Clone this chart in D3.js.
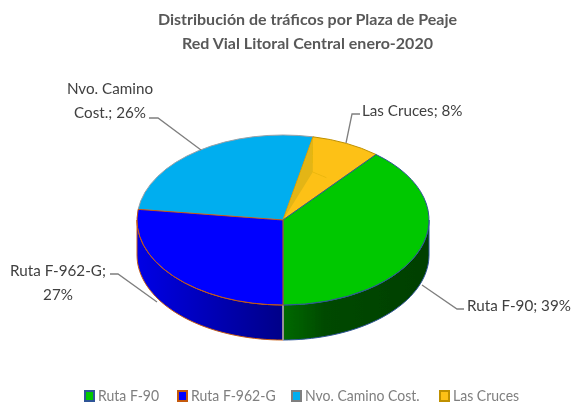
<!DOCTYPE html>
<html><head><meta charset="utf-8">
<script src="https://cdn.jsdelivr.net/npm/d3@7"></script>
<style>html,body{margin:0;padding:0;background:#fff}svg{display:block}
text{font-family:Lato,"Open Sans",sans-serif}</style></head>
<body><div id="chart"></div>
<script>
const categories = ["Ruta F-90","Ruta F-962-G","Nvo. Camino Cost.","Las Cruces"];
const values = [39,27,26.3,7.7];
const topColors = ["#00c800","#0000ff","#00aeef","#fdc116"];
const edgeColors = ["#2f5597","#c55a11","#7f7f7f","#bf9000"];
const titleLines = ["Distribución de tráficos por Plaza de Peaje","Red Vial Litoral Central enero-2020"];
const pieLabels = [["Ruta F-90; 39%"],["Ruta F-962-G;","27%"],["Nvo. Camino","Cost.; 26%"],["Las Cruces; 8%"]];

const W=573,H=405,cx=283,cy=220,rx=146,ry=85,depth=35;
const svg=d3.select("#chart").append("svg").attr("width",W).attr("height",H);
const defs=svg.append("defs");
defs.append("filter").attr("id","soft").attr("x","-5%").attr("y","-5%").attr("width","110%").attr("height","110%")
  .append("feGaussianBlur").attr("stdDeviation",0.5);
const root=svg.append("g").attr("filter","url(#soft)");
const squeeze=(sel,f)=>sel.each(function(){
  d3.select(this).attr("textLength",this.getComputedTextLength()*f).attr("lengthAdjust","spacingAndGlyphs");
});

const pie=d3.pie().value(d=>d).sort(null).startAngle(39.6*Math.PI/180).endAngle((39.6+360)*Math.PI/180);
const arcs=pie(values);
const px=a=>cx+rx*Math.sin(a), py=a=>cy-ry*Math.cos(a);

// side walls
categories.forEach((c,i)=>{
  const g=defs.append("linearGradient").attr("id","side"+i).attr("gradientUnits","userSpaceOnUse")
    .attr("x1",i==0?cx:cx-rx).attr("x2",i==0?cx+rx:cx).attr("y1",0).attr("y2",0);
  if(i==0){
    g.append("stop").attr("offset",0).attr("stop-color","#006a00");
    g.append("stop").attr("offset",.3).attr("stop-color","#004800");
    g.append("stop").attr("offset",1).attr("stop-color","#004000");
  } else {
    g.append("stop").attr("offset",0).attr("stop-color","#0000e6");
    g.append("stop").attr("offset",1).attr("stop-color","#000088");
  }
});
arcs.forEach((d,i)=>{
  const a0=Math.max(d.startAngle,Math.PI/2), a1=Math.min(d.endAngle,Math.PI*3/2);
  if(a1<=a0) return;
  const ts=d3.range(0,41).map(k=>a0+(a1-a0)*k/40);
  const pts=ts.map(t=>[px(t),py(t)]).concat(ts.slice().reverse().map(t=>[px(t),py(t)+depth]));
  root.append("path").attr("d",d3.line()(pts)+"Z").attr("fill",`url(#side${i})`)
    .attr("stroke",edgeColors[i]).attr("stroke-width",1);
});
// vertical seam at the front
root.append("line").attr("x1",px(Math.PI)).attr("x2",px(Math.PI)).attr("y1",py(Math.PI)).attr("y2",py(Math.PI)+depth)
  .attr("stroke","#a9a9b4").attr("stroke-width",1.5);

// top faces
const arc=d3.arc().innerRadius(0).outerRadius(rx);
const topG=root.append("g").attr("transform",`translate(${cx},${cy}) scale(1,${ry/rx})`);
const order=[2,3,0,1];
order.forEach(i=>{
  topG.append("path").attr("d",arc(arcs[i])).attr("fill",topColors[i])
    .attr("stroke",i==2?"#9aa0a6":edgeColors[i]).attr("stroke-width",1).attr("vector-effect","non-scaling-stroke");
});
// darker inner facet of the small slice
const ySlice=arcs[3], polar=(a,r)=>[cx+r*rx*Math.sin(a),cy-r*ry*Math.cos(a)];
const fa=ySlice.startAngle+8*Math.PI/180, fb=ySlice.startAngle+19*Math.PI/180;
root.append("path").attr("d",d3.line()([[cx,cy],polar(ySlice.startAngle,1),polar(fa,.6)])+"Z").attr("fill","#e3b512");
root.append("path").attr("d",d3.line()([polar(fa,.6),polar(fb,.58)])).attr("fill","none").attr("stroke","#edb80f").attr("stroke-width",1);

// leaders
const leaders=[
  [[422,285],[457,309],[464,309]],
  [[157,302],[118,274],[110,274]],
  [[201,150],[158,118],[149,118]],
  [[346,143],[352,114],[360,114]]
];
leaders.forEach(l=>root.append("path").attr("d",d3.line()(l)).attr("fill","none").attr("stroke","#7f7f7f").attr("stroke-width",1.3));

// title
titleLines.forEach((t,i)=>root.append("text").attr("x",307.5).attr("y",25+i*23.5).attr("text-anchor","middle")
  .attr("font-size",16).attr("font-weight",700).attr("fill","#595959").text(t));

// labels
const labelPos=[[467,311,"start"],[58,276,"middle"],[110,94,"middle"],[362,116,"start"]];
pieLabels.forEach((ls,i)=>ls.forEach((t,k)=>root.append("text").attr("x",labelPos[i][0]).attr("y",labelPos[i][1]+k*24)
  .attr("text-anchor",labelPos[i][2]).attr("font-size",16).attr("fill","#404040").text(t).call(squeeze,.95)));

// legend
const legX=[85,178,292,440];
categories.forEach((c,i)=>{
  root.append("rect").attr("x",legX[i]).attr("y",391).attr("width",9).attr("height",10)
    .attr("fill",topColors[i]).attr("stroke",edgeColors[i]).attr("stroke-width",2);
  root.append("text").attr("x",legX[i]+13).attr("y",401).attr("font-size",15).attr("fill","#7f7f7f").text(c).call(squeeze,.935);
});
</script></body></html>
